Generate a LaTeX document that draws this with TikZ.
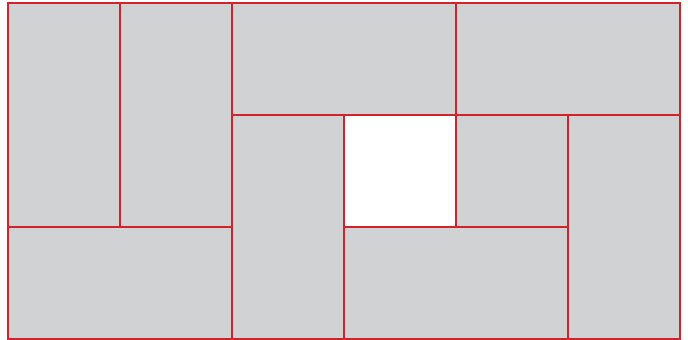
\documentclass[tikz,border=0pt]{standalone}
\definecolor{tilegray}{HTML}{D1D2D4}
\definecolor{tilered}{HTML}{D2232A}
\tikzset{tile/.style={fill=tilegray,draw=tilered,line width=0.7pt}}
\begin{document}
\begin{tikzpicture}[x=0.5pt,y=-0.5pt]
\useasboundingbox (0,0) rectangle (688,340);
% grid: x = 8 + 112*i, y = 3 + 112*j
\draw[tile] (8,3) rectangle (120,227);
\draw[tile] (120,3) rectangle (232,227);
\draw[tile] (8,227) rectangle (232,339);
\draw[tile] (232,3) rectangle (456,115);
\draw[tile] (456,3) rectangle (680,115);
\draw[tile] (232,115) rectangle (344,339);
\draw[draw=tilered,line width=0.7pt,fill=white] (344,115) rectangle (456,227);
\draw[tile] (456,115) rectangle (568,227);
\draw[tile] (344,227) rectangle (568,339);
\draw[tile] (568,115) rectangle (680,339);
\end{tikzpicture}
\end{document}
